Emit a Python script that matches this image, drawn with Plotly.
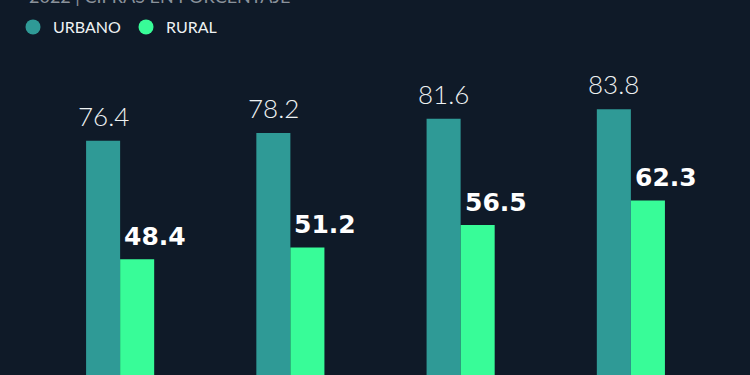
import plotly.graph_objects as go

categories = ["A", "B", "C", "D"]
urbano = [76.4, 78.2, 81.6, 83.8]
rural = [48.4, 51.2, 56.5, 62.3]
series_names = ["URBANO", "RURAL"]
subtitle = "2022 | CIFRAS EN PORCENTAJE"

BG = "#0f1a28"
C_URB = "#2f9a96"
C_RUR = "#38fc98"
TXT = "#eef2f3"

fig = go.Figure()
fig.add_trace(go.Bar(x=categories, y=urbano, name=series_names[0], marker_color=C_URB,
                     marker_line_width=0, showlegend=False, hoverinfo="skip"))
fig.add_trace(go.Bar(x=categories, y=rural, name=series_names[1], marker_color=C_RUR,
                     marker_line_width=0, showlegend=False, hoverinfo="skip"))
# legend entries with circular markers
for nm, col in zip(series_names, [C_URB, C_RUR]):
    fig.add_trace(go.Scatter(x=[None], y=[None], mode="markers", name=nm,
                             marker=dict(symbol="circle", size=15, color=col)))

annotations = []
for c, u, r in zip(categories, urbano, rural):
    annotations.append(dict(x=c, y=u, xref="x", yref="y", text=f"{u:.1f}", showarrow=False,
                            xanchor="center", yanchor="bottom", xshift=-17, yshift=7,
                            font=dict(family="Lato", size=26, color=TXT, weight=300)))
    annotations.append(dict(x=c, y=r, xref="x", yref="y", text=f"{r:.1f}", showarrow=False,
                            xanchor="left", yanchor="bottom", xshift=2, yshift=6,
                            font=dict(family="DejaVu Sans", size=25, color="#ffffff", weight=700)))
annotations.append(dict(x=-8 / 681, y=1, xref="paper", yref="paper", text=subtitle,
                        showarrow=False, xanchor="left", yanchor="bottom", yshift=-9,
                        font=dict(family="Lato", size=18, color="#8a929b")))

fig.update_layout(
    width=750, height=375,
    margin=dict(l=35, r=34, t=0, b=0, autoexpand=False),
    paper_bgcolor=BG, plot_bgcolor=BG,
    barmode="group", bargap=0.6, bargroupgap=0,
    xaxis=dict(range=[-0.5, 3.5], visible=False, fixedrange=True),
    yaxis=dict(range=[21.1, 109.6], visible=False, fixedrange=True),
    showlegend=True,
    legend=dict(orientation="h", x=-22 / 681, y=1 - 27 / 375,
                yanchor="middle", xanchor="left",
                font=dict(family="Lato", size=16, color=TXT),
                bgcolor="rgba(0,0,0,0)", itemwidth=30, tracegroupgap=0),
    annotations=annotations,
)

fig.write_html("out.html")
